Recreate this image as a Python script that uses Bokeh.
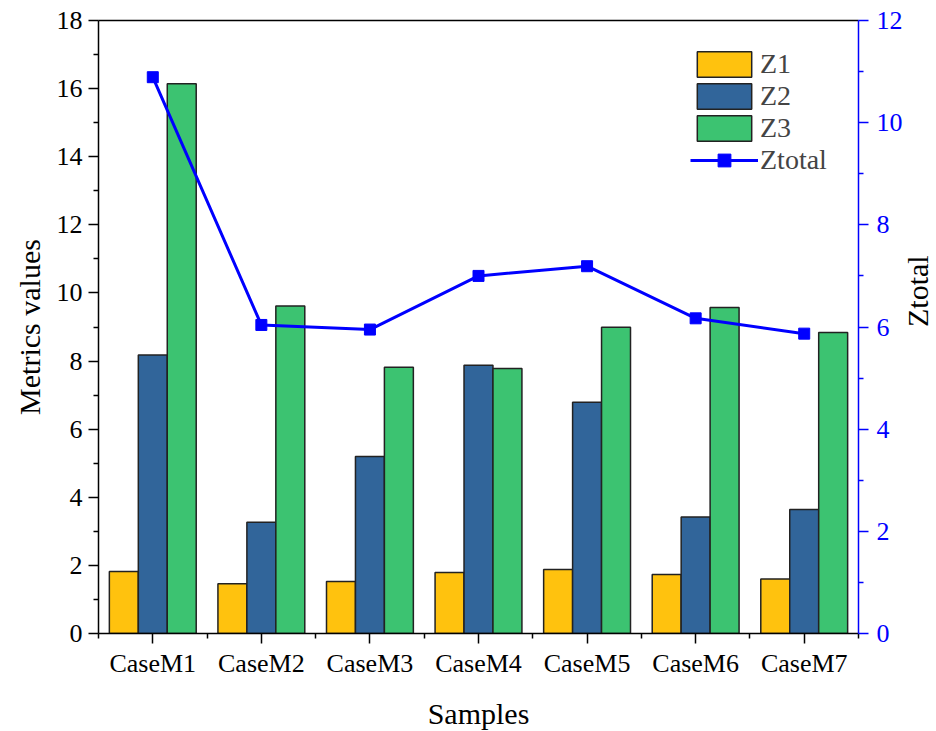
import math
from bokeh.plotting import figure
from bokeh.models import LinearAxis, Range1d, FixedTicker
from bokeh.embed import file_html
from bokeh.resources import INLINE

samples = ["CaseM1", "CaseM2", "CaseM3", "CaseM4", "CaseM5", "CaseM6", "CaseM7"]
z1 = [1.82, 1.46, 1.53, 1.79, 1.88, 1.73, 1.60]
z2 = [8.18, 3.27, 5.20, 7.88, 6.79, 3.42, 3.64]
z3 = [16.14, 9.62, 7.82, 7.78, 8.99, 9.57, 8.84]
ztotal = [10.89, 6.04, 5.95, 7.00, 7.19, 6.17, 5.87]

left_ticks = list(range(0, 19, 2))
right_ticks = list(range(0, 13, 2))

FONT = "Liberation Serif"
BW = 0.8 / 3
idx = list(range(len(samples)))

p = figure(frame_width=760, frame_height=613,
           x_range=Range1d(-0.5, len(samples) - 0.5), y_range=Range1d(0, 18),
           output_backend="svg", toolbar_location=None,
           min_border_left=98, min_border_right=78, min_border_top=20, min_border_bottom=96)
p.extra_y_ranges = {"zt": Range1d(0, 12)}
p.grid.visible = False
p.outline_line_color = None

colors = ["#FFC20E", "#31659A", "#3CC371"]
for k, (vals, lab) in enumerate(zip([z1, z2, z3], ["Z1", "Z2", "Z3"])):
    xs = [i + (k - 1) * BW for i in idx]
    p.vbar(x=xs, top=vals, width=BW, bottom=0, fill_color=colors[k],
           line_color="#222222", line_width=1.5, legend_label=lab)

p.line(idx, ztotal, y_range_name="zt", line_color="#0000FF", line_width=3, legend_label="Ztotal")
p.scatter(idx, ztotal, y_range_name="zt", marker="square", size=11,
          fill_color="#0000FF", line_color="#0000FF", legend_label="Ztotal")

def style(ax, color="black"):
    ax.axis_line_color = color
    ax.axis_line_width = 1.5
    ax.major_tick_line_color = color
    ax.minor_tick_line_color = color
    ax.major_tick_line_width = 1.5
    ax.minor_tick_line_width = 1.5
    ax.major_tick_in = 0
    ax.major_tick_out = 10
    ax.minor_tick_in = 0
    ax.minor_tick_out = 5
    ax.major_label_text_font = FONT
    ax.major_label_text_font_size = "26px"
    ax.major_label_text_color = color
    ax.axis_label_text_font = FONT
    ax.axis_label_text_font_size = "30px"
    ax.axis_label_text_font_style = "normal"
    ax.axis_label_text_color = "black"

xa = p.xaxis[0]
xa.ticker = FixedTicker(ticks=idx, minor_ticks=[i - 0.5 for i in range(len(samples) + 1)])
xa.major_label_overrides = {i: s for i, s in enumerate(samples)}
xa.axis_label = "Samples"
style(xa)
xa.major_label_standoff = 5
xa.axis_label_standoff = 16

ya = p.yaxis[0]
ya.ticker = FixedTicker(ticks=left_ticks, minor_ticks=list(range(1, 18, 2)))
ya.axis_label = "Metrics values"
style(ya)
ya.major_label_standoff = 6
ya.axis_label_standoff = 8

ra = LinearAxis(y_range_name="zt", axis_label="Ztotal",
                ticker=FixedTicker(ticks=right_ticks, minor_ticks=list(range(1, 12, 2))))
style(ra, "#0000FF")
ra.major_label_standoff = 8
ra.axis_label_standoff = 12
ra.axis_label_orientation = math.pi / 2
p.add_layout(ra, "right")

ta = LinearAxis(ticker=FixedTicker(ticks=[]))
ta.axis_line_color = "black"
ta.axis_line_width = 1.5
ta.major_tick_out = 0
ta.major_tick_in = 0
ta.minor_tick_out = 0
ta.minor_tick_in = 0
ta.major_label_text_font_size = "0px"
p.add_layout(ta, "above")

lg = p.legend[0]
lg.location = (592, 457)
lg.padding = 0
lg.margin = 0
lg.spacing = 0
lg.glyph_width = 68
lg.glyph_height = 32
lg.label_height = 32
lg.label_standoff = 2
lg.label_text_font = FONT
lg.label_text_font_size = "28px"
lg.border_line_alpha = 0
lg.background_fill_alpha = 0

open("out.html", "w").write(file_html(p, INLINE))
